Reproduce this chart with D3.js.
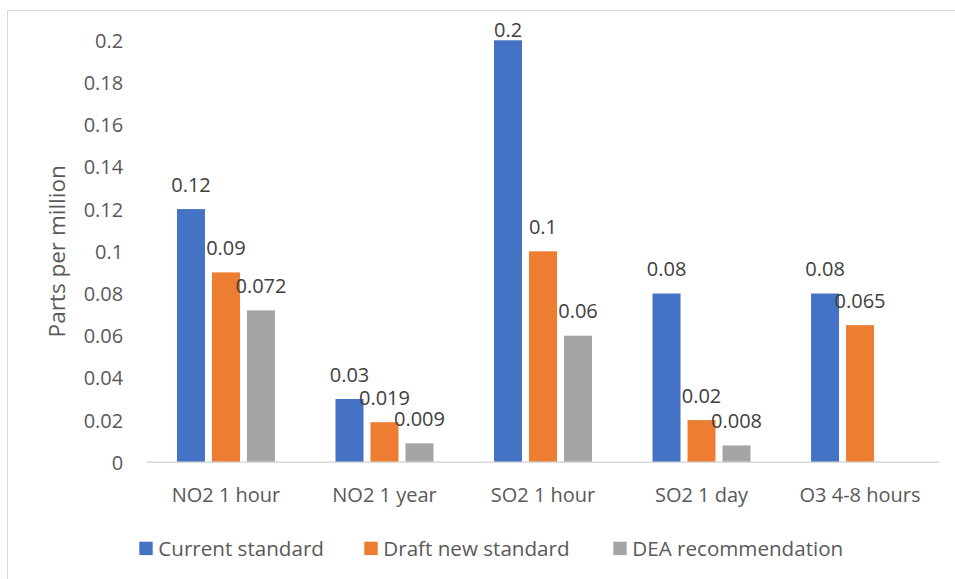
<!DOCTYPE html>
<html>
<head>
<meta charset="utf-8">
<script src="https://cdn.jsdelivr.net/npm/d3@7"></script>
<style>
  html, body { margin: 0; padding: 0; background: #fff; }
  svg { display: block; }
  text { font-family: "Open Sans", sans-serif; }
</style>
</head>
<body>
<svg id="chart" width="955" height="579"></svg>
<script>
const categories = ["NO2 1 hour", "NO2 1 year", "SO2 1 hour", "SO2 1 day", "O3 4-8 hours"];
const seriesNames = ["Current standard", "Draft new standard", "DEA recommendation"];
const currentStandard = [0.12, 0.03, 0.2, 0.08, 0.08];
const draftNewStandard = [0.09, 0.019, 0.1, 0.02, 0.065];
const deaRecommendation = [0.072, 0.009, 0.06, 0.008, null];
const yTicks = [0, 0.02, 0.04, 0.06, 0.08, 0.1, 0.12, 0.14, 0.16, 0.18, 0.2];
const colors = ["#4472C4", "#ED7D31", "#A5A5A5"];

const seriesValues = [currentStandard, draftNewStandard, deaRecommendation];

const svg = d3.select("#chart");

// chart frame
svg.append("rect")
  .attr("x", 7.5).attr("y", 10.5)
  .attr("width", 1000).attr("height", 1000)
  .attr("fill", "none").attr("stroke", "#d9d9d9").attr("stroke-width", 1);

const plot = { left: 146.7, right: 939.3, top: 40.3, bottom: 462.3 };

const y = d3.scaleLinear().domain([0, 0.2]).range([plot.bottom, plot.top]);
const x0 = d3.scaleBand().domain(categories).range([plot.left, plot.right]).paddingInner(0.382).paddingOuter(0.191);
const x1 = d3.scaleBand().domain(seriesNames).range([0, x0.bandwidth()]).paddingInner(0.2);

// y axis labels (no line, no ticks)
const yAxis = d3.axisLeft(y).tickValues(yTicks).tickSize(0).tickPadding(0)
  .tickFormat(d => d3.format("")(+d.toFixed(3)));
const gy = svg.append("g").attr("transform", `translate(${plot.left - 23.5},0)`).call(yAxis);
gy.select(".domain").remove();
gy.selectAll("text").attr("fill", "#595959").style("font-size", "20px").attr("dy", "0.35em");

// y title
svg.append("text")
  .attr("transform", `translate(65,${(plot.top + plot.bottom) / 2}) rotate(-90)`)
  .attr("text-anchor", "middle")
  .attr("fill", "#595959")
  .style("font-size", "22.5px")
  .text("Parts per million");

// bars
const groups = svg.append("g").selectAll("g")
  .data(categories)
  .join("g")
  .attr("transform", d => `translate(${x0(d)},0)`);

const barData = (cat, ci) => seriesNames.map((s, si) => ({ s, si, v: seriesValues[si][ci] })).filter(d => d.v != null);

groups.selectAll("rect")
  .data((d, ci) => barData(d, ci))
  .join("rect")
  .attr("x", d => x1(d.s))
  .attr("width", x1.bandwidth())
  .attr("y", d => y(d.v))
  .attr("height", d => y(0) - y(d.v))
  .attr("fill", d => colors[d.si]);

// x axis
const xAxis = d3.axisBottom(x0).tickSize(0).tickPadding(0);
const gx = svg.append("g").attr("transform", `translate(0,${plot.bottom})`).call(xAxis);
gx.select(".domain").attr("stroke", "#d9d9d9").attr("stroke-width", 1.5)
  .attr("d", `M${plot.left},0H${plot.right}`);
gx.selectAll("text").attr("fill", "#595959").style("font-size", "20px").attr("dy", "1.98em");

// data labels
groups.selectAll("text.lbl")
  .data((d, ci) => barData(d, ci))
  .join("text")
  .attr("class", "lbl")
  .attr("x", d => x1(d.s) + x1.bandwidth() / 2)
  .attr("y", d => Math.max(y(d.v) - 17.5, 36.5))
  .attr("text-anchor", "middle")
  .attr("fill", "#404040")
  .style("font-size", "20px")
  .text(d => d3.format("")(d.v));

// legend
const legendX = [139.3, 364.3, 613.3];
const legend = svg.append("g").selectAll("g")
  .data(seriesNames)
  .join("g")
  .attr("transform", (d, i) => `translate(${legendX[i]},541.7)`);
legend.append("rect").attr("width", 13.4).attr("height", 13.4).attr("fill", (d, i) => colors[i]);
legend.append("text").attr("x", 19).attr("y", 6.7).attr("dy", "0.35em")
  .attr("fill", "#595959").style("font-size", "20.6px").text(d => d);
</script>
</body>
</html>
